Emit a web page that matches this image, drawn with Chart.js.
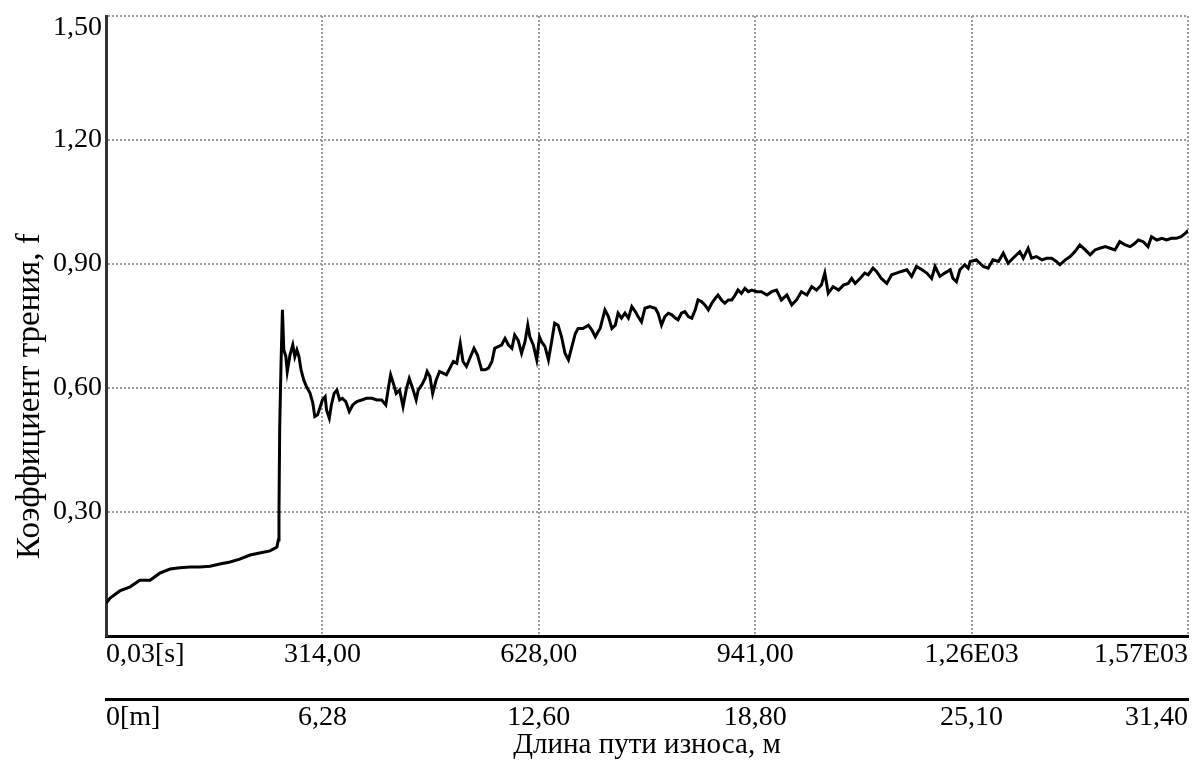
<!DOCTYPE html>
<html><head><meta charset="utf-8">
<script src="https://cdn.jsdelivr.net/npm/chart.js@4.4.0/dist/chart.umd.min.js"></script>
<style>html,body{margin:0;padding:0;background:#fff;}#wrap{width:1197px;height:771px;}</style>
</head><body><div id="wrap"><canvas id="c" width="1197" height="771"></canvas></div>
<script>
// time, s (upper axis)
const timeSec = [
  0, 6, 20, 35, 49, 64, 78, 93, 107, 122, 136, 151, 165, 180, 194, 209, 223, 238, 248, 250, 251, 252, 254, 256,
  258, 261, 263, 267, 271, 274, 277, 280, 283, 287, 291, 296, 300, 303, 307, 311, 314, 318, 320, 324, 327, 331, 335, 339, 343, 348, 353, 358, 364, 371, 378, 386, 393, 400, 406, 410, 413, 417, 421, 426,
  431, 436, 440, 445, 450, 453, 458, 463, 466, 470, 474, 479, 484, 489, 494, 499, 504, 509, 514, 518, 523, 528, 534, 539, 545, 550, 555, 560, 564, 569, 574, 579, 584, 589, 593, 598, 603, 608, 612, 615, 620, 625, 629, 632, 637, 642, 647, 651, 656, 661, 666, 671, 676, 681, 685, 692, 700, 705, 710, 714,
  717, 724, 729, 734, 739, 743, 748, 753, 758, 763, 768, 772, 777, 782, 789, 797, 801, 806, 811, 816, 821, 826, 830, 835, 840, 845, 850, 855, 859, 864, 869, 874, 879, 884, 888, 893, 898, 903, 908, 913, 917, 922, 927, 932, 937, 944, 951, 959, 966, 973,
  980, 988, 995, 1002, 1009, 1017, 1024, 1031, 1038, 1043, 1048, 1055, 1063, 1070, 1077, 1082, 1087, 1094, 1101, 1106, 1113, 1118, 1125, 1133, 1140, 1147, 1154, 1162, 1169, 1176, 1184, 1191, 1198, 1203, 1210, 1217, 1225, 1229, 1234, 1239, 1246, 1251,
  1254, 1263, 1273, 1280, 1287, 1295, 1302, 1309, 1316, 1326, 1331, 1338, 1343, 1350, 1358, 1365, 1372, 1379, 1384, 1392, 1399, 1406, 1413, 1421, 1428, 1435, 1442, 1450, 1457, 1464, 1471, 1479, 1486, 1493, 1498, 1505, 1512, 1517, 1525, 1532, 1539, 1546, 1553, 1560, 1566, 1570
];
// friction coefficient f
const friction = [
  0.079, 0.092, 0.109, 0.119, 0.135, 0.135, 0.152, 0.162, 0.165, 0.167, 0.167, 0.169, 0.174, 0.179, 0.186, 0.196, 0.201, 0.206, 0.215, 0.232, 0.30, 0.50, 0.66, 0.789,
  0.692, 0.676, 0.640, 0.680, 0.704, 0.676, 0.692, 0.676, 0.644, 0.619, 0.603, 0.588, 0.564, 0.531, 0.535, 0.555, 0.571, 0.579, 0.547, 0.527, 0.559, 0.587, 0.595, 0.571, 0.575, 0.567, 0.543, 0.559, 0.567, 0.571, 0.575, 0.575, 0.571, 0.571, 0.559, 0.603, 0.632, 0.611, 0.587, 0.595,
  0.555, 0.599, 0.623, 0.599, 0.571, 0.595, 0.607, 0.623, 0.640, 0.628, 0.587, 0.619, 0.640, 0.636, 0.632, 0.648, 0.664, 0.660, 0.708, 0.664, 0.652, 0.672, 0.696, 0.680, 0.644, 0.644, 0.648, 0.664, 0.696, 0.700, 0.704, 0.720, 0.704, 0.696, 0.728, 0.716, 0.684, 0.712, 0.752, 0.724, 0.704, 0.668, 0.724, 0.712, 0.700, 0.668, 0.716, 0.757, 0.752, 0.724, 0.684, 0.668, 0.700, 0.732, 0.744, 0.744, 0.752, 0.740, 0.724, 0.736,
  0.744, 0.789, 0.773, 0.744, 0.752, 0.781, 0.769, 0.781, 0.769, 0.797, 0.785, 0.773, 0.760, 0.793, 0.797, 0.793, 0.781, 0.752, 0.773, 0.781, 0.777, 0.769, 0.765, 0.781, 0.785, 0.773, 0.769, 0.789, 0.813, 0.809, 0.801, 0.789, 0.805, 0.817, 0.825, 0.813, 0.805, 0.813, 0.813, 0.825, 0.837, 0.829, 0.841, 0.833, 0.837, 0.833, 0.833, 0.825, 0.833, 0.837,
  0.813, 0.825, 0.801, 0.813, 0.833, 0.825, 0.845, 0.837, 0.849, 0.878, 0.829, 0.845, 0.837, 0.849, 0.853, 0.865, 0.853, 0.865, 0.878, 0.874, 0.890, 0.882, 0.865, 0.853, 0.874, 0.878, 0.882, 0.886, 0.870, 0.894, 0.886, 0.878, 0.865, 0.894, 0.870, 0.878, 0.886, 0.865, 0.857, 0.886, 0.898, 0.890,
  0.906, 0.910, 0.894, 0.890, 0.910, 0.906, 0.926, 0.902, 0.914, 0.930, 0.914, 0.938, 0.914, 0.918, 0.910, 0.914, 0.914, 0.906, 0.898, 0.910, 0.918, 0.930, 0.946, 0.934, 0.922, 0.934, 0.938, 0.942, 0.938, 0.934, 0.954, 0.946, 0.942, 0.950, 0.958, 0.954, 0.942, 0.966, 0.958, 0.962, 0.958, 0.962, 0.962, 0.966, 0.974, 0.981
];
const timeTickValues = [0, 314, 628, 942, 1256, 1570];
const timeTickLabels = ['0,03[s]', '314,00', '628,00', '941,00', '1,26E03', '1,57E03'];
const distTickValues = [0, 6.28, 12.56, 18.84, 25.12, 31.4];
const distTickLabels = ['0[m]', '6,28', '12,60', '18,80', '25,10', '31,40'];
const fTickValues = [0, 0.3, 0.6, 0.9, 1.2, 1.5];
const fTickLabels = ['', '0,30', '0,60', '0,90', '1,20', '1,50'];
const yTitleText = 'Коэффициент трения, f';
const xTitleText = 'Длина пути износа, м';

const FONT = 'Liberation Serif';
const gridColor = '#9a9a9a';

new Chart(document.getElementById('c'), {
  type: 'line',
  data: {
    datasets: [{
      data: timeSec.map((t, i) => ({ x: t, y: friction[i] })),
      borderColor: '#000', borderWidth: 3, pointRadius: 0, tension: 0, fill: false,
      xAxisID: 'x', yAxisID: 'y'
    }]
  },
  options: {
    responsive: false, animation: false, devicePixelRatio: 1,
    layout: { padding: { top: 16, right: 9, left: 0, bottom: 0 } },
    plugins: { legend: { display: false }, tooltip: { enabled: false } },
    scales: {
      x: {
        type: 'linear', position: 'bottom', min: 0, max: 1570,
        afterBuildTicks: s => { s.ticks = timeTickValues.map(v => ({ value: v })); },
        afterFit: s => { s.height = 63; s.paddingLeft = 0; s.paddingRight = 0; },
        grid: { color: gridColor, lineWidth: 2, drawTicks: false },
        border: { display: true, color: '#000', width: 3, dash: [2, 2] },
        ticks: {
          autoSkip: false, maxRotation: 0, align: 'inner', padding: 2, color: '#000',
          font: { family: FONT, size: 28 },
          callback: (v, i) => timeTickLabels[i]
        }
      },
      x2: {
        type: 'linear', position: 'bottom', min: 0, max: 31.4,
        afterBuildTicks: s => { s.ticks = distTickValues.map(v => ({ value: v })); },
        afterFit: s => { s.height = 72; s.paddingLeft = 0; s.paddingRight = 0; },
        grid: { display: true, drawOnChartArea: false, drawTicks: false },
        border: { display: true, color: '#000', width: 3 },
        ticks: {
          autoSkip: false, maxRotation: 0, align: 'inner', padding: 2, color: '#000',
          font: { family: FONT, size: 28 },
          callback: (v, i) => distTickLabels[i]
        },
        title: {
          display: true, text: xTitleText, color: '#000',
          font: { family: FONT, size: 29 }, padding: { top: 0, bottom: 8 }
        }
      },
      y: {
        type: 'linear', position: 'left', min: 0, max: 1.5,
        afterBuildTicks: s => { s.ticks = fTickValues.map(v => ({ value: v })); },
        afterFit: s => { s.width = 106; s.paddingTop = 0; s.paddingBottom = 0; },
        grid: { color: gridColor, lineWidth: 2, drawTicks: false },
        border: { display: true, color: '#333', width: 3, dash: [2, 2] },
        ticks: {
          padding: 4, color: '#000',
          font: { family: FONT, size: 28, lineHeight: 0.85 },
          callback: (v, i) => (i === fTickValues.length - 1 ? ['', fTickLabels[i]] : fTickLabels[i])
        },
        title: {
          display: true, text: yTitleText + '\u00a0'.repeat(17), color: '#000',
          font: { family: FONT, size: 33 }, padding: { top: 11, bottom: 0 }
        }
      }
    }
  }
});
</script>
</body></html>
